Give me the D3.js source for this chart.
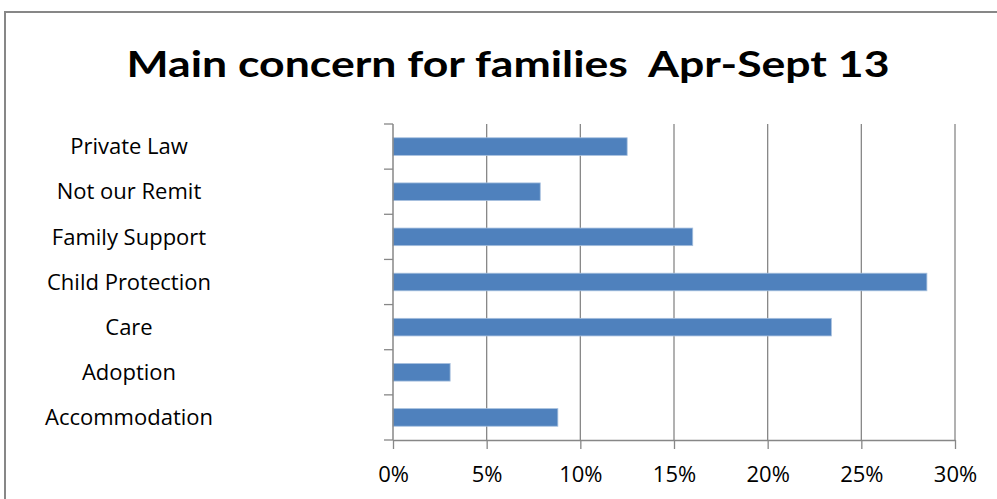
<!DOCTYPE html>
<html>
<head>
<meta charset="utf-8">
<script src="https://cdn.jsdelivr.net/npm/d3@7"></script>
<style>
  body { margin: 0; background: #fff; }
  text { font-family: "Open Sans", sans-serif; fill: #000; }
</style>
</head>
<body>
<svg id="chart"></svg>
<script>
// data
const categories = ['Private Law', 'Not our Remit', 'Family Support', 'Child Protection', 'Care', 'Adoption', 'Accommodation'];
const shares = [0.125, 0.0786, 0.160, 0.285, 0.234, 0.0305, 0.088];
const xTicks = [0, 0.05, 0.10, 0.15, 0.20, 0.25, 0.30];
const title = 'Main concern for families  Apr-Sept 13';

const width = 997, height = 499;
const margin = { top: 124, right: 42, bottom: 59, left: 393 };
const innerW = width - margin.left - margin.right;
const innerH = height - margin.top - margin.bottom;
const grey = '#878787';

const svg = d3.select('#chart')
    .attr('width', width)
    .attr('height', height);

// outer chart frame (only top and left edges visible in the crop)
svg.append('path')
    .attr('d', `M5,${height}V12H${width}`)
    .attr('fill', 'none')
    .attr('stroke', grey)
    .attr('stroke-width', 2);

svg.append('text')
    .attr('x', 508)
    .attr('y', 77)
    .attr('text-anchor', 'middle')
    .attr('textLength', 763)
    .attr('lengthAdjust', 'spacingAndGlyphs')
    .style('white-space', 'pre')
    .style('font-family', 'Lato, "Open Sans", sans-serif')
    .style('font-size', '37px')
    .style('font-weight', 'bold')
    .text(title);

const chart = svg.append('g')
    .attr('transform', `translate(${margin.left},${margin.top})`);

const xScale = d3.scaleLinear()
    .domain([0, 0.30])
    .range([0, innerW]);

const yScale = d3.scaleBand()
    .domain(categories)
    .range([0, innerH])
    .paddingInner(0.61)
    .paddingOuter(0.305);

// vertical gridlines
chart.append('g')
    .selectAll('line')
    .data(xTicks.slice(1))
    .join('line')
    .attr('x1', d => xScale(d))
    .attr('x2', d => xScale(d))
    .attr('y1', 0)
    .attr('y2', innerH)
    .attr('stroke', grey)
    .attr('stroke-width', 1.3);

// bars
chart.append('g')
    .selectAll('rect')
    .data(categories)
    .join('rect')
    .attr('x', 0)
    .attr('y', d => yScale(d))
    .attr('width', (d, i) => xScale(shares[i]))
    .attr('height', yScale.bandwidth())
    .attr('fill', '#4f81bd')
    .attr('stroke', '#a7c0de')
    .attr('stroke-width', 0.8);

// x axis
const xAxis = d3.axisBottom(xScale)
    .tickValues(xTicks)
    .tickFormat(d3.format('.0%'))
    .tickSize(9)
    .tickSizeOuter(0)
    .tickPadding(17);

const xAxisG = chart.append('g')
    .attr('transform', `translate(0,${innerH})`)
    .call(xAxis);

xAxisG.select('.domain').attr('stroke', grey).attr('stroke-width', 1.5);
xAxisG.selectAll('.tick line').attr('stroke', grey).attr('stroke-width', 1.3);
xAxisG.selectAll('text')
    .attr('font-family', null)
    .attr('font-size', null)
    .style('font-size', '22px')
    .style('fill', '#000');

// y axis line with tick marks at band boundaries
const step = yScale.step();
const boundaries = d3.range(categories.length + 1).map(i => i * step);

chart.append('line')
    .attr('x1', 0).attr('x2', 0)
    .attr('y1', 0).attr('y2', innerH)
    .attr('stroke', grey)
    .attr('stroke-width', 1.5);

chart.append('g')
    .selectAll('line')
    .data(boundaries)
    .join('line')
    .attr('x1', -9)
    .attr('x2', 0)
    .attr('y1', d => d)
    .attr('y2', d => d)
    .attr('stroke', grey)
    .attr('stroke-width', 1.3);

// category labels
svg.append('g')
    .selectAll('text')
    .data(categories)
    .join('text')
    .attr('x', 129)
    .attr('y', d => margin.top + yScale(d) + yScale.bandwidth() / 2)
    .attr('dy', '0.35em')
    .attr('text-anchor', 'middle')
    .style('font-size', '22px')
    .text(d => d);
</script>
</body>
</html>
